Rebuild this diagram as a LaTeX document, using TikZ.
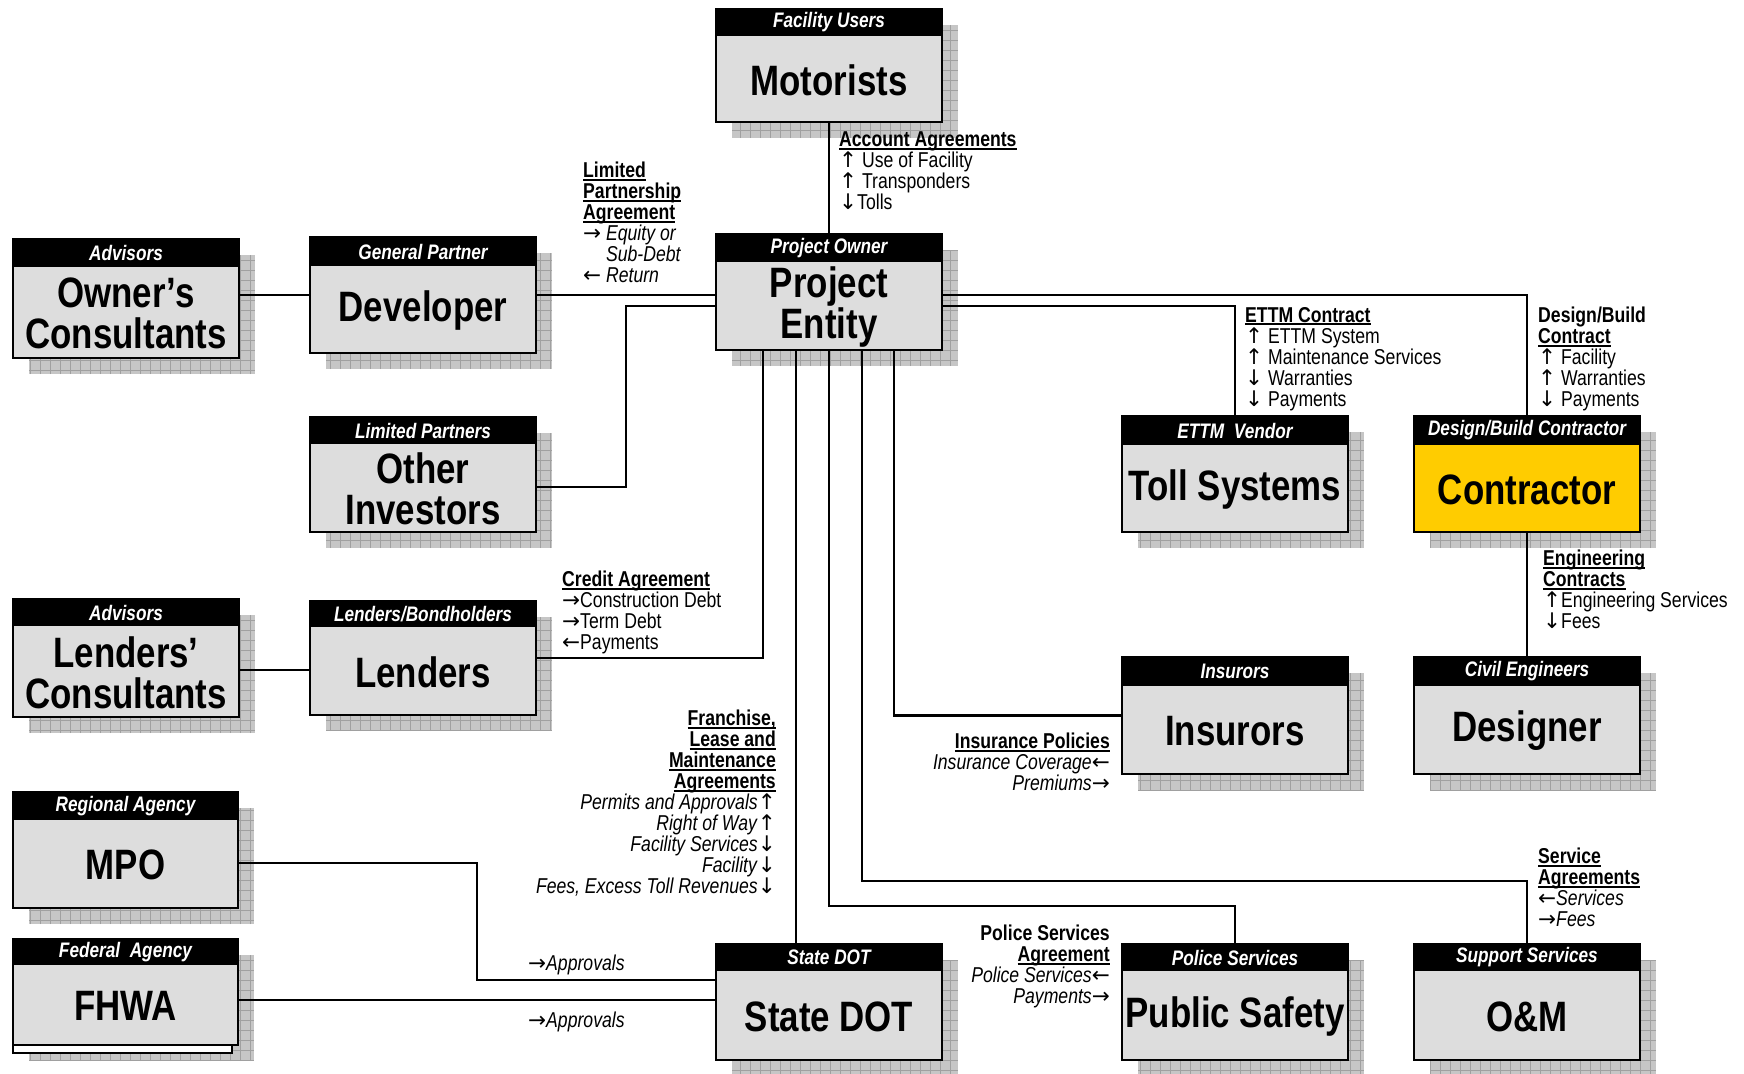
\documentclass[tikz,border=0pt]{standalone}
\usepackage{fontspec}
\setmainfont{Liberation Sans}[FakeStretch=0.82]
\newfontfamily\arrfont{DejaVu Sans}
\newcommand\myup{{\arrfont ↑}}
\newcommand\mydn{{\arrfont ↓}}
\newcommand\myra{{\arrfont →}}
\newcommand\myla{{\arrfont ←}}
\newcommand\myul[1]{\setbox0=\hbox{#1}\leavevmode\rlap{\rule[-3pt]{\wd0}{1.8pt}}\box0}
\definecolor{boxgray}{HTML}{DDDDDD}
\definecolor{shadowgray}{HTML}{C6C6C6}
\definecolor{gridgray}{HTML}{A0A0A0}
\definecolor{cyellow}{HTML}{FFCC00}
\tikzset{
 conn/.style={line width=2.6pt, line join=miter},
 boxline/.style={line width=2.8pt},
 headtxt/.style={text=white, font=\fontsize{21}{21}\selectfont\bfseries\itshape, inner sep=0},
 titletxt/.style={font=\fontsize{42.5}{41}\selectfont\bfseries, align=center, inner sep=0},
 lbl/.style={font=\fontsize{21.5}{21}\selectfont, align=left, inner sep=0, anchor=north west},
 lblr/.style={font=\fontsize{21.5}{21}\selectfont, align=right, inner sep=0, anchor=north east},
}
% #1 name, #2 x1, #3 y1, #4 x2, #5 y2, #6 header bottom, #7 header, #8 title, #9 fill
\newcommand\drawbox[9]{%
 \begin{scope}
 \clip ({#2+16},{#3+16}) rectangle ({#4+16},{#5+16});
 \fill[shadowgray] ({#2+16},{#3+16}) rectangle ({#4+16},{#5+16});
 \draw[gridgray,line width=0.7pt,step=10pt] ({#2+16},{#3+16}) grid ({#4+16},{#5+16});
 \end{scope}
 \node[draw=none,fill=#9,minimum width={#4-#2},minimum height={#5-#3},inner sep=0,outer sep=0,anchor=north west] (#1) at (#2,#3) {};
 \fill[black] (#2,#3) rectangle (#4,#6);
 \draw[boxline] (#2,#3) rectangle (#4,#5);
 \node[headtxt] (#1h) at ({(#2+#4)/2},{(#3+#6)/2}) {#7};
 \node[titletxt] (#1t) at ({(#2+#4)/2},{(#6+#5)/2+1}) {#8};
}
\begin{document}
\begin{tikzpicture}[x=1pt,y=-1pt]
\useasboundingbox (0,0) rectangle (1744,1073);
\fill[white] (0,0) rectangle (1744,1073);

% boxes
\drawbox{mot}{716}{9}{942}{122}{36}{Facility Users}{Motorists}{boxgray}
\drawbox{pe}{716}{234}{942}{350}{262}{Project Owner}{Project\\Entity}{boxgray}
\drawbox{owc}{13}{239}{239}{358}{267}{Advisors}{Owner’s\\Consultants}{boxgray}
\drawbox{dev}{310}{237}{536}{353}{266}{General Partner}{Developer}{boxgray}
\drawbox{oth}{310}{417}{536}{532}{444}{Limited Partners}{Other\\Investors}{boxgray}
\drawbox{lec}{13}{599}{239}{717}{626}{Advisors}{Lenders’\\Consultants}{boxgray}
\drawbox{len}{310}{601}{536}{715}{627}{Lenders/Bondholders}{Lenders}{boxgray}
\drawbox{mpo}{13}{792}{238}{908}{820}{Regional Agency}{MPO}{boxgray}
\drawbox{fhwa}{13}{939}{238}{1045}{965}{Federal\ \ Agency}{FHWA}{boxgray}
\filldraw[fill=white,line width=2.2pt] (13,1045) rectangle (232,1053);
\drawbox{sdot}{716}{944}{942}{1060}{971}{State DOT}{State DOT}{boxgray}
\drawbox{toll}{1122}{416}{1348}{532}{445}{ETTM\ \ Vendor}{Toll Systems}{boxgray}
\drawbox{con}{1414}{416}{1640}{532}{445}{Design/Build Contractor}{Contractor}{cyellow}
\drawbox{ins}{1122}{657}{1348}{774}{686}{Insurors}{Insurors}{boxgray}
\drawbox{des}{1414}{657}{1640}{774}{686}{Civil Engineers}{Designer}{boxgray}
\drawbox{pub}{1122}{944}{1348}{1060}{971}{Police Services}{Public Safety}{boxgray}
\drawbox{om}{1414}{944}{1640}{1060}{971}{Support Services}{O\&M}{boxgray}

% connector corners
\coordinate (c1) at (626,306);
\coordinate (c3) at (477,980);
\coordinate (c4) at (829,906);
\coordinate (c5) at (862,881);

% connectors
\draw[conn] (mot.south) -- (pe.north);
\draw[conn] (dev.west -| owc.east) -- (dev.west);
\draw[conn] (dev.east) -- (dev.east -| pe.west);
\draw[conn] ([yshift=-12.5pt]oth.east) -| (c1) -- (c1 -| pe.west);
\draw[conn] ([yshift=-12pt]lec.east) -- ([yshift=-12pt]lec.east -| len.west);
\draw[conn] (len.east) -| ([xshift=-66pt]pe.south);
\draw[conn] ([xshift=-33pt]pe.south) -- ([xshift=-33pt]pe.south |- sdot.north);
\draw[conn] (pe.south) -- (c4) -| (pub.north);
\draw[conn] ([xshift=33pt]pe.south) -- (c5) -| (om.north);
\draw[conn] ([xshift=65pt]pe.south) |- (ins.west);
\draw[conn] ([yshift=-3pt]pe.east) -| (con.north);
\draw[conn] ([yshift=-14pt]pe.east) -| (toll.north);
\draw[conn] (con.south) -- (des.north);
\draw[conn] ([yshift=-13pt]mpo.east) -| (c3) -- (c3 -| sdot.west);
\draw[conn] ([yshift=-8pt]fhwa.east) -- ([yshift=-8pt]fhwa.east -| sdot.west);

% labels
\node[lbl] (laa) at (839,132) {\textbf{\myul{Account Agreements}}\\\myup\ Use of Facility\\\myup\ Transponders\\\mydn Tolls};
\node[lbl] (llp) at (583,162) {\textbf{\myul{Limited}}\\\textbf{\myul{Partnership}}\\\textbf{\myul{Agreement}}\\\myra\ \textit{Equity or}\\\phantom{\myra\ }\textit{Sub-Debt}\\\myla\ \textit{Return}};
\node[lbl] (lettm) at (1245,307) {\textbf{\myul{ETTM Contract}}\\\myup\ ETTM System\\\myup\ Maintenance Services\\\mydn\ Warranties\\\mydn\ Payments};
\node[lbl] (ldb) at (1538,307) {\textbf{Design/Build}\\\textbf{\myul{Contract}}\\\myup\ Facility\\\myup\ Warranties\\\mydn\ Payments};
\node[lbl] (lcr) at (562,571) {\textbf{\myul{Credit Agreement}}\\\myra Construction Debt\\\myra Term Debt\\\myla Payments};
\node[lbl] (leng) at (1543,550) {\textbf{\myul{Engineering}}\\\textbf{\myul{Contracts}}\\\myup Engineering Services\\\mydn Fees};
\node[lblr] (lfr) at (776,710) {\textbf{\myul{Franchise,}}\\\textbf{\myul{Lease and}}\\\textbf{\myul{Maintenance}}\\\textbf{\myul{Agreements}}\\\textit{Permits and Approvals}\myup\\\textit{Right of Way}\myup\\\textit{Facility Services}\mydn\\\textit{Facility}\mydn\\\textit{Fees, Excess Toll Revenues}\mydn};
\node[lblr] (lins) at (1110,733) {\textbf{\myul{Insurance Policies}}\\\textit{Insurance Coverage}\myla\\\textit{Premiums}\myra};
\node[lblr] (lpol) at (1110,925) {\textbf{Police Services}\\\textbf{\myul{Agreement}}\\\textit{Police Services}\myla\\\textit{Payments}\myra};
\node[lbl] (lsvc) at (1538,848) {\textbf{\myul{Service}}\\\textbf{\myul{Agreements}}\\\myla\textit{Services}\\\myra\textit{Fees}};
\node[lbl] (lap1) at (528,955) {\myra\textit{Approvals}};
\node[lbl] (lap2) at (528,1012) {\myra\textit{Approvals}};
\end{tikzpicture}
\end{document}
